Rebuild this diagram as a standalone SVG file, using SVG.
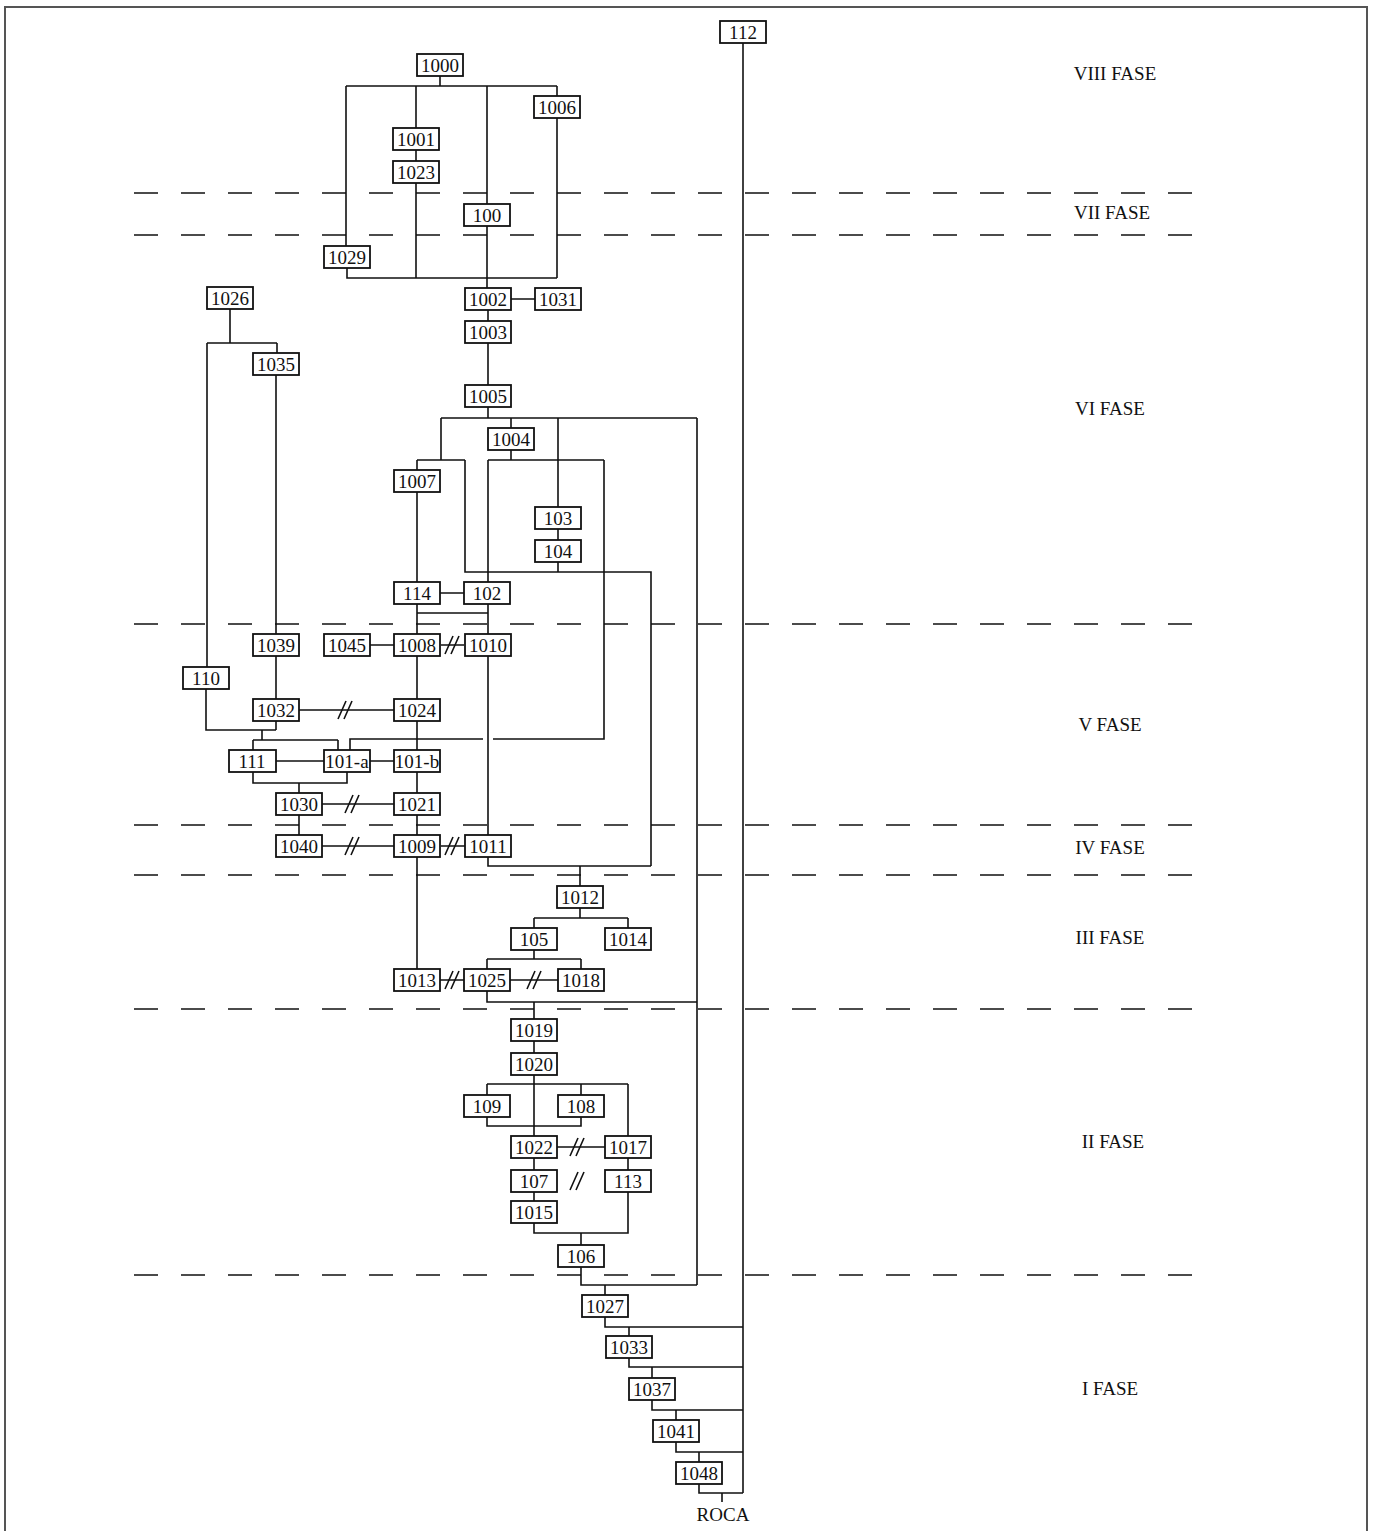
<svg xmlns="http://www.w3.org/2000/svg" xmlns:xlink="http://www.w3.org/1999/xlink" width="1374" height="1531" viewBox="0 0 1374 1531">
<style>
.bg{fill:#fff}
.fr{stroke:#555;stroke-width:2;fill:none}
.ph{stroke:#111;stroke-width:1.5;stroke-dasharray:24 23;fill:none}
.c{stroke:#111;stroke-width:1.6;fill:none}
.n rect{fill:#fff;stroke:#111;stroke-width:1.8}
.n text{font-family:"Liberation Serif","DejaVu Serif",serif;font-size:19px;fill:#111;text-anchor:middle}
.lab{font-family:"Liberation Serif","DejaVu Serif",serif;font-size:19px;fill:#111;text-anchor:middle}
</style>
<defs>
<g id="sl" class="c"><path d="M-7 9 L1 -9 M-1 9 L7 -9"/></g>
</defs>
<rect class="bg" x="0" y="0" width="1374" height="1531"/>
<path class="fr" d="M5 1531 V7 H1367 V1531"/>
<g id="phases">
<path class="ph" d="M134 193 H1192 M134 235 H1192 M134 624 H1192 M134 825 H1192 M134 875 H1192 M134 1009 H1192 M134 1275 H1192"/>
<text class="lab" x="1115" y="80">VIII FASE</text>
<text class="lab" x="1112" y="219">VII FASE</text>
<text class="lab" x="1110" y="415">VI FASE</text>
<text class="lab" x="1110" y="731">V FASE</text>
<text class="lab" x="1110" y="854">IV FASE</text>
<text class="lab" x="1110" y="944">III FASE</text>
<text class="lab" x="1113" y="1148">II FASE</text>
<text class="lab" x="1110" y="1395">I FASE</text>
</g>
<g id="connectors">
<path class="c" d="M743 43 V1493"/>
<path class="c" d="M440 76 V86 M346 86 H557 M346 86 V246 M416 86 V128 M487 86 V204 M557 86 V96"/>
<path class="c" d="M416 150 V161 M416 183 V278 M557 118 V278 M347 268 V278 H557 M487 226 V288"/>
<path class="c" d="M511 299 H535 M488 310 V321 M488 343 V385"/>
<path class="c" d="M488 407 V418 M441 418 H697 M511 418 V428 M558 418 V507 M697 418 V1285"/>
<path class="c" d="M441 418 V460 M417 460 H465 M417 460 V470 M465 460 V572 H651 V866"/>
<path class="c" d="M511 450 V460 M488 460 H604 M488 460 V582 M604 460 V739 H493 M483 739 H350 V750"/>
<path class="c" d="M558 529 V540 M558 562 V572"/>
<path class="c" d="M417 492 V582 M440 593 H464 M417 604 V634 M488 604 V634 M417 613 H488"/>
<path class="c" d="M230 309 V343 M207 343 H277 M207 343 V667 M277 343 V353 M276 375 V634 M276 656 V699"/>
<path class="c" d="M206 689 V730 H276 M276 721 V730 M262 730 V740 M253 740 H338 M253 740 V750 M338 740 V750"/>
<path class="c" d="M370 645 H394 M441 645 H464 M417 656 V699 M299 710 H394 M417 721 V750"/>
<path class="c" d="M276 761 H324 M370 761 H394 M253 772 V783 H347 V772 M299 783 V793 M417 772 V793"/>
<path class="c" d="M322 804 H394 M299 815 V835 M417 815 V835 M322 846 H394 M441 846 H465"/>
<path class="c" d="M488 656 V835 M488 857 V866 H651 M580 866 V886 M417 857 V969"/>
<path class="c" d="M580 908 V918 M534 918 H628 M534 918 V928 M628 918 V928 M534 950 V959 M487 959 H581 M487 959 V969 M581 959 V969"/>
<path class="c" d="M440 980 H464 M510 980 H558 M487 991 V1002 H697 M534 1002 V1019"/>
<path class="c" d="M534 1041 V1053 M534 1075 V1136 M487 1084 H628 M487 1084 V1095 M581 1084 V1095 M628 1084 V1136 M487 1117 V1126 H581 V1117"/>
<path class="c" d="M557 1147 H605 M534 1158 V1170 M628 1158 V1170 M534 1192 V1201 M534 1223 V1233 H628 V1192 M581 1233 V1245"/>
<path class="c" d="M581 1267 V1285 H697 M605 1285 V1295"/>
<path class="c" d="M605 1317 V1327 H743 M629 1327 V1336 M629 1358 V1367 H743 M652 1367 V1378 M652 1400 V1410 H743 M676 1410 V1420 M676 1442 V1452 H743 M699 1452 V1462 M699 1484 V1493 H743 M722 1493 V1502"/>
<use href="#sl" x="452" y="645"/>
<use href="#sl" x="345" y="710"/>
<use href="#sl" x="352" y="804"/>
<use href="#sl" x="352" y="846"/>
<use href="#sl" x="452" y="846"/>
<use href="#sl" x="452" y="980"/>
<use href="#sl" x="534" y="980"/>
<use href="#sl" x="577" y="1147"/>
<use href="#sl" x="577" y="1181"/>
</g>
<g id="n112" class="n"><rect x="720" y="21" width="46" height="22"/><text x="743" y="39">112</text></g>
<g id="n1000" class="n"><rect x="417" y="54" width="46" height="22"/><text x="440" y="72">1000</text></g>
<g id="n1006" class="n"><rect x="534" y="96" width="46" height="22"/><text x="557" y="114">1006</text></g>
<g id="n1001" class="n"><rect x="393" y="128" width="46" height="22"/><text x="416" y="146">1001</text></g>
<g id="n1023" class="n"><rect x="393" y="161" width="46" height="22"/><text x="416" y="179">1023</text></g>
<g id="n100" class="n"><rect x="464" y="204" width="46" height="22"/><text x="487" y="222">100</text></g>
<g id="n1029" class="n"><rect x="324" y="246" width="46" height="22"/><text x="347" y="264">1029</text></g>
<g id="n1002" class="n"><rect x="465" y="288" width="46" height="22"/><text x="488" y="306">1002</text></g>
<g id="n1031" class="n"><rect x="535" y="288" width="46" height="22"/><text x="558" y="306">1031</text></g>
<g id="n1003" class="n"><rect x="465" y="321" width="46" height="22"/><text x="488" y="339">1003</text></g>
<g id="n1005" class="n"><rect x="465" y="385" width="46" height="22"/><text x="488" y="403">1005</text></g>
<g id="n1004" class="n"><rect x="488" y="428" width="46" height="22"/><text x="511" y="446">1004</text></g>
<g id="n1026" class="n"><rect x="207" y="287" width="46" height="22"/><text x="230" y="305">1026</text></g>
<g id="n1035" class="n"><rect x="253" y="353" width="46" height="22"/><text x="276" y="371">1035</text></g>
<g id="n1007" class="n"><rect x="394" y="470" width="46" height="22"/><text x="417" y="488">1007</text></g>
<g id="n103" class="n"><rect x="535" y="507" width="46" height="22"/><text x="558" y="525">103</text></g>
<g id="n104" class="n"><rect x="535" y="540" width="46" height="22"/><text x="558" y="558">104</text></g>
<g id="n114" class="n"><rect x="394" y="582" width="46" height="22"/><text x="417" y="600">114</text></g>
<g id="n102" class="n"><rect x="464" y="582" width="46" height="22"/><text x="487" y="600">102</text></g>
<g id="n1039" class="n"><rect x="253" y="634" width="46" height="22"/><text x="276" y="652">1039</text></g>
<g id="n1045" class="n"><rect x="324" y="634" width="46" height="22"/><text x="347" y="652">1045</text></g>
<g id="n1008" class="n"><rect x="394" y="634" width="46" height="22"/><text x="417" y="652">1008</text></g>
<g id="n1010" class="n"><rect x="465" y="634" width="46" height="22"/><text x="488" y="652">1010</text></g>
<g id="n110" class="n"><rect x="183" y="667" width="46" height="22"/><text x="206" y="685">110</text></g>
<g id="n1032" class="n"><rect x="253" y="699" width="46" height="22"/><text x="276" y="717">1032</text></g>
<g id="n1024" class="n"><rect x="394" y="699" width="46" height="22"/><text x="417" y="717">1024</text></g>
<g id="n111" class="n"><rect x="229" y="750" width="47" height="22"/><text x="252" y="768">111</text></g>
<g id="n101a" class="n"><rect x="324" y="750" width="46" height="22"/><text x="347" y="768">101-a</text></g>
<g id="n101b" class="n"><rect x="394" y="750" width="46" height="22"/><text x="417" y="768">101-b</text></g>
<g id="n1030" class="n"><rect x="276" y="793" width="46" height="22"/><text x="299" y="811">1030</text></g>
<g id="n1021" class="n"><rect x="394" y="793" width="46" height="22"/><text x="417" y="811">1021</text></g>
<g id="n1040" class="n"><rect x="276" y="835" width="46" height="22"/><text x="299" y="853">1040</text></g>
<g id="n1009" class="n"><rect x="394" y="835" width="46" height="22"/><text x="417" y="853">1009</text></g>
<g id="n1011" class="n"><rect x="465" y="835" width="46" height="22"/><text x="488" y="853">1011</text></g>
<g id="n1012" class="n"><rect x="557" y="886" width="46" height="22"/><text x="580" y="904">1012</text></g>
<g id="n105" class="n"><rect x="511" y="928" width="46" height="22"/><text x="534" y="946">105</text></g>
<g id="n1014" class="n"><rect x="605" y="928" width="46" height="22"/><text x="628" y="946">1014</text></g>
<g id="n1013" class="n"><rect x="394" y="969" width="46" height="22"/><text x="417" y="987">1013</text></g>
<g id="n1025" class="n"><rect x="464" y="969" width="46" height="22"/><text x="487" y="987">1025</text></g>
<g id="n1018" class="n"><rect x="558" y="969" width="46" height="22"/><text x="581" y="987">1018</text></g>
<g id="n1019" class="n"><rect x="511" y="1019" width="46" height="22"/><text x="534" y="1037">1019</text></g>
<g id="n1020" class="n"><rect x="511" y="1053" width="46" height="22"/><text x="534" y="1071">1020</text></g>
<g id="n109" class="n"><rect x="464" y="1095" width="46" height="22"/><text x="487" y="1113">109</text></g>
<g id="n108" class="n"><rect x="558" y="1095" width="46" height="22"/><text x="581" y="1113">108</text></g>
<g id="n1022" class="n"><rect x="511" y="1136" width="46" height="22"/><text x="534" y="1154">1022</text></g>
<g id="n1017" class="n"><rect x="605" y="1136" width="46" height="22"/><text x="628" y="1154">1017</text></g>
<g id="n107" class="n"><rect x="511" y="1170" width="46" height="22"/><text x="534" y="1188">107</text></g>
<g id="n113" class="n"><rect x="605" y="1170" width="46" height="22"/><text x="628" y="1188">113</text></g>
<g id="n1015" class="n"><rect x="511" y="1201" width="46" height="22"/><text x="534" y="1219">1015</text></g>
<g id="n106" class="n"><rect x="558" y="1245" width="46" height="22"/><text x="581" y="1263">106</text></g>
<g id="n1027" class="n"><rect x="582" y="1295" width="46" height="22"/><text x="605" y="1313">1027</text></g>
<g id="n1033" class="n"><rect x="606" y="1336" width="46" height="22"/><text x="629" y="1354">1033</text></g>
<g id="n1037" class="n"><rect x="629" y="1378" width="46" height="22"/><text x="652" y="1396">1037</text></g>
<g id="n1041" class="n"><rect x="653" y="1420" width="46" height="22"/><text x="676" y="1438">1041</text></g>
<g id="n1048" class="n"><rect x="676" y="1462" width="46" height="22"/><text x="699" y="1480">1048</text></g>
<g id="roca"><text class="lab" x="723" y="1521">ROCA</text></g>
</svg>
